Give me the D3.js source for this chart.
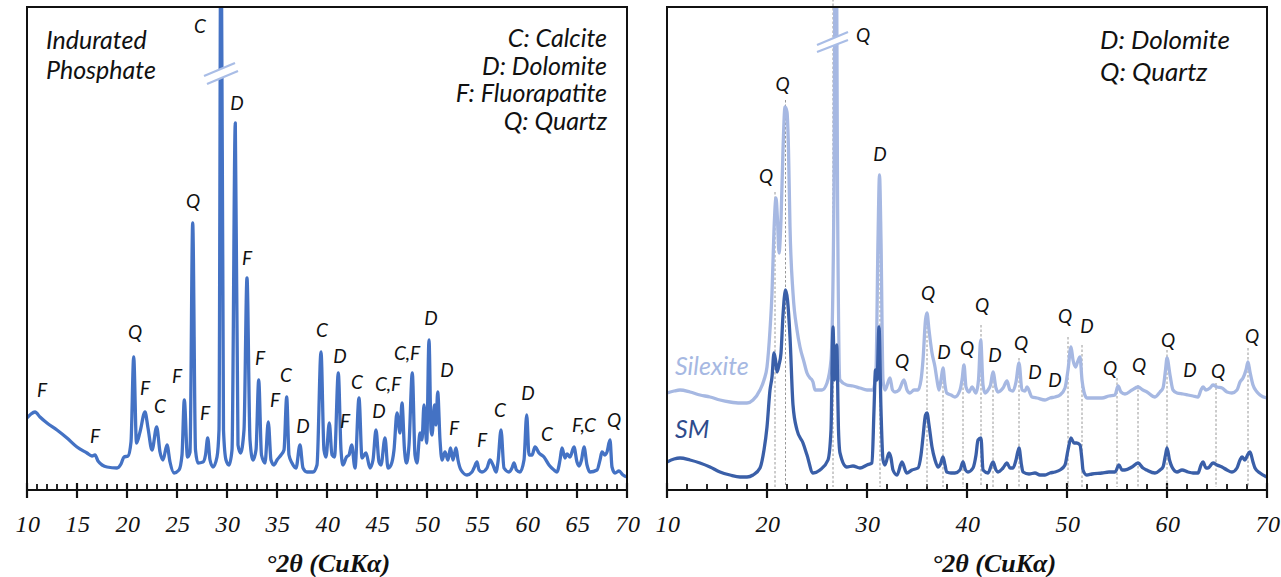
<!DOCTYPE html>
<html>
<head>
<meta charset="utf-8">
<script src="https://cdn.jsdelivr.net/npm/d3@7"></script>
<style>
  body { margin: 0; background: #fff; }
  .lbl { font-family: Lato, "Open Sans", sans-serif; font-style: italic; font-size: 19px; fill: #111; }
  .leg { font-family: Lato, "Open Sans", sans-serif; font-style: italic; font-size: 25px; fill: #111; }
  .tick { font-family: "Liberation Serif", serif; font-style: italic; font-size: 24px; letter-spacing: 0.5px; fill: #111; }
  .title { font-family: "Liberation Serif", serif; font-style: italic; font-weight: bold; font-size: 26px; fill: #111; }
</style>
</head>
<body>
<svg id="chart"></svg>
<script>
// XRD pattern of the indurated phosphate, [2theta, counts]
const phosphate = [
  [10.0,72],[10.4,76],[10.8,78],[11.3,73],[12.0,67],[13.0,60],[14.0,52],[15.0,43],[16.0,37],[16.5,34],[16.8,35],
  [17.1,29],[18.0,23],[19.0,22],[19.4,26],[19.7,33],[20.1,34],[20.4,48],[20.67,133],[20.95,47],[21.3,58],[21.8,78],
  [22.1,62],[22.5,40],[22.97,63],[23.3,38],[23.6,30],[24.0,45],[24.3,28],[24.7,17],[25.2,20],[25.5,35],[25.73,90],
  [26.05,33],[26.3,38],[26.57,267],[26.85,40],[27.1,27],[27.6,28],[27.85,35],[28.07,52],[28.3,30],[28.6,23],[29.0,33],
  [29.2,60],[29.4,620],[29.65,60],[29.9,30],[30.2,25],[30.5,40],[30.83,367],[31.1,45],[31.35,37],[31.7,60],[32.0,212],
  [32.3,50],[32.6,30],[32.9,40],[33.17,110],[33.45,35],[33.8,27],[34.13,68],[34.4,30],[34.7,25],[35.0,30],[35.4,35],
  [35.7,40],[35.97,93],[36.2,35],[36.5,27],[36.9,22],[37.3,45],[37.6,22],[38.0,18],[38.6,18],[39.0,25],[39.4,138],
  [39.7,40],[39.9,33],[40.23,67],[40.5,35],[40.75,33],[41.13,117],[41.4,40],[41.6,25],[41.95,33],[42.2,35],[42.47,45],
  [42.8,22],[43.2,92],[43.5,32],[43.9,37],[44.3,22],[44.6,30],[44.9,60],[45.2,28],[45.4,25],[45.8,52],[46.1,22],
  [46.4,25],[46.7,40],[47.0,77],[47.3,57],[47.5,87],[47.75,40],[47.95,27],[48.2,45],[48.53,117],[48.8,35],[49.0,27],
  [49.3,57],[49.5,50],[49.7,85],[49.97,47],[50.2,150],[50.4,60],[50.5,55],[50.75,85],[50.9,65],[51.07,98],[51.3,50],
  [51.5,30],[51.8,38],[52.1,30],[52.35,42],[52.6,30],[52.9,42],[53.1,30],[53.4,20],[54.0,15],[54.5,18],[54.7,22],
  [55.0,28],[55.2,20],[55.5,18],[56.0,22],[56.3,30],[56.6,25],[56.9,18],[57.1,28],[57.4,60],[57.7,22],[58.2,18],
  [58.5,22],[58.7,27],[58.95,20],[59.3,18],[59.7,30],[59.97,75],[60.2,35],[60.5,35],[60.8,43],[61.2,37],[61.7,33],
  [62.2,25],[62.7,20],[63.0,18],[63.3,30],[63.5,42],[63.8,32],[64.0,36],[64.3,33],[64.7,43],[65.0,28],[65.2,24],
  [65.45,30],[65.7,43],[66.0,25],[66.3,18],[67.0,20],[67.3,30],[67.5,38],[67.8,35],[68.0,38],[68.3,50],[68.5,23],
  [68.8,17],[69.2,19],[69.6,15],[70.0,13]
];

// silexite and SM patterns
const silexite = [
  [10,97],[10.7,99],[11.3,100],[12.3,98],[13.3,95],[14.3,93],[15.3,90],[16.3,88],[17.3,87],[18.0,87],[18.6,90],
  [19.3,100],[19.7,110],[20.0,123],[20.3,160],[20.5,197],[20.7,260],[20.9,292],[21.05,270],[21.2,237],[21.4,270],
  [21.6,340],[21.8,383],[22.0,378],[22.15,340],[22.3,263],[22.6,197],[23.0,160],[23.3,143],[23.7,128],[24.0,117],
  [24.3,112],[24.5,110],[24.6,108],[24.8,100],[25.0,100],[25.5,100],[26.0,107],[26.4,130],[26.7,300],[26.87,700],
  [27.05,300],[27.3,110],[27.97,105],[28.6,104],[29.3,102],[30.0,100],[30.6,100],[30.9,120],[31.1,250],[31.25,315],
  [31.4,250],[31.6,110],[31.8,100],[32.3,112],[32.55,100],[32.8,98],[33.2,100],[33.7,110],[34.0,100],[34.3,97],
  [34.7,100],[35.1,100],[35.4,110],[35.6,130],[35.85,170],[36.0,177],[36.2,160],[36.5,137],[36.8,123],[37.0,110],
  [37.2,100],[37.4,110],[37.6,122],[37.8,105],[37.97,97],[38.4,95],[38.8,93],[39.3,100],[39.5,110],[39.7,125],
  [39.9,103],[40.2,98],[40.5,103],[40.9,97],[41.15,110],[41.37,150],[41.6,105],[41.8,97],[42.1,100],[42.35,105],
  [42.6,118],[42.9,102],[43.1,98],[43.6,102],[44.0,109],[44.3,100],[44.6,99],[44.9,108],[45.2,127],[45.5,100],
  [45.8,99],[46.0,103],[46.5,93],[47.0,92],[47.8,90],[48.3,92],[48.8,93],[49.3,95],[49.8,102],[50.1,120],[50.4,143],
  [50.6,130],[50.85,123],[51.05,128],[51.3,133],[51.5,110],[51.7,98],[52.0,92],[53.0,92],[53.5,92],[54.2,94],
  [54.8,95],[55.1,104],[55.4,98],[55.8,96],[56.5,100],[57.1,103],[57.6,100],[58.0,98],[58.8,93],[59.3,98],[59.6,102],
  [59.85,120],[60.0,132],[60.3,115],[60.6,100],[61.0,97],[61.6,96],[62.1,95],[62.6,94],[63.1,93],[63.4,100],
  [63.6,103],[63.9,100],[64.3,102],[64.6,105],[65.0,103],[65.5,102],[66.0,98],[66.5,97],[67.0,100],[67.3,108],
  [67.6,112],[67.9,120],[68.1,128],[68.3,118],[68.6,105],[69.0,98],[69.3,95],[69.97,92]
];
const sm = [
  [10,28],[10.7,31],[11.3,32],[12.3,30],[13.3,27],[14.3,23],[15.3,18],[16.3,15],[17.3,13],[18.0,13],[18.6,15],
  [19.3,22],[19.7,40],[20.0,63],[20.3,100],[20.5,113],[20.7,137],[20.85,130],[21.0,118],[21.2,125],[21.4,137],
  [21.6,175],[21.85,200],[22.05,190],[22.3,153],[22.6,85],[23.0,60],[23.6,47],[24.0,35],[24.6,17],[25.3,20],
  [26.1,30],[26.4,60],[26.6,163],[26.75,110],[26.97,145],[27.15,60],[27.3,37],[27.97,23],[28.6,24],[29.3,22],
  [30.0,25],[30.5,27],[30.7,80],[30.85,120],[31.0,110],[31.2,163],[31.4,80],[31.6,30],[31.8,25],[32.2,37],[32.4,32],
  [32.6,20],[33.0,15],[33.5,28],[33.97,17],[34.5,20],[35.1,22],[35.4,35],[35.6,53],[35.85,75],[36.0,77],[36.2,65],
  [36.5,43],[36.8,30],[37.1,23],[37.35,26],[37.6,33],[37.8,25],[37.97,18],[38.4,17],[38.8,17],[39.3,20],[39.6,28],
  [39.85,20],[40.1,18],[40.6,22],[40.9,35],[41.1,50],[41.4,52],[41.6,20],[42.1,17],[42.6,28],[42.9,20],[43.1,18],
  [43.6,22],[44.0,27],[44.3,22],[44.6,22],[44.9,30],[45.2,42],[45.45,25],[45.6,18],[46.2,16],[46.8,17],[47.3,15],
  [47.8,15],[48.3,17],[48.8,18],[49.3,20],[49.8,25],[50.1,40],[50.4,52],[50.7,47],[50.97,47],[51.3,45],[51.5,30],
  [51.6,20],[51.97,15],[52.5,16],[53.5,17],[54.2,18],[54.8,18],[55.2,25],[55.5,20],[55.8,20],[56.5,23],[57.1,27],
  [57.6,22],[57.97,20],[58.8,17],[59.3,20],[59.6,23],[59.85,35],[60.0,42],[60.25,30],[60.5,23],[61.0,18],[61.5,20],
  [62.1,18],[62.6,17],[63.1,17],[63.4,25],[63.6,28],[63.9,22],[64.1,22],[64.6,27],[65.0,25],[65.5,23],[66.0,20],
  [66.5,18],[67.0,22],[67.3,30],[67.5,33],[67.8,30],[68.05,35],[68.3,38],[68.6,28],[68.8,22],[69.3,17],[69.97,13]
];

// peak labels [text, 2theta, counts]
const phosphateLabels = [
  ["C",27.3,457],["D",31.0,380],["Q",26.6,282],["Q",20.8,151],["F",11.5,93],["F",16.8,47],["F",21.8,95],
  ["C",23.3,77],["F",25.0,107],["F",27.8,70],["F",32.0,225],["F",33.3,125],["C",35.9,108],["F",34.8,83],
  ["D",37.6,57],["C",39.5,153],["D",41.3,127],["F",41.8,62],["C",43.0,101],["C,F",46.1,99],["D",45.2,72],
  ["C,F",48.0,130],["D",50.4,165],["D",52.0,113],["F",52.7,55],["F",55.5,43],["C",57.3,73],["D",60.1,90],
  ["C",62.0,49],["F,C",65.7,58],["Q",68.7,63]
];
const silexiteLabels = [
  ["Q",29.6,448],["Q",21.57,399],["Q",19.9,307],["D",31.3,329],["Q",33.5,122],["Q",36.1,190],["D",37.7,131],
  ["Q",40.0,135],["Q",41.5,178],["D",42.8,128],["Q",45.4,140],["D",46.8,111],["D",48.8,103],["Q",49.8,167],
  ["D",52.0,157],["Q",54.3,115],["Q",57.2,118],["Q",60.1,143],["D",62.3,113],["Q",65.1,112],["Q",68.5,147]
];

// dotted reference lines on the right panel [2theta, top counts]
const refLines = [
  [20.8,298],[21.85,390],[26.6,500],[31.3,315],[36.0,177],[37.6,122],[39.6,125],[41.4,165],[42.6,118],
  [45.2,132],[50.1,153],[51.5,145],[55.0,112],[57.1,105],[60.0,140],[64.9,107],[68.1,142]
];

const legendLeft = ["C: Calcite", "D: Dolomite", "F: Fluorapatite", "Q: Quartz"];
const legendRight = ["D: Dolomite", "Q: Quartz"];

const width = 1281, height = 577;
const plotTop = 7, base = 490;

const svg = d3.select("#chart").attr("width", width).attr("height", height);

const y = d3.scaleLinear().domain([0, 483]).range([base, plotTop]);
const xL = d3.scaleLinear().domain([10, 70]).range([27, 627]);
const xR = d3.scaleLinear().domain([10, 70]).range([667, 1267]);

svg.append("defs").selectAll("clipPath")
  .data([["clipL", xL], ["clipR", xR]])
  .join("clipPath").attr("id", d => d[0])
  .append("rect")
    .attr("x", d => d[1].range()[0]).attr("y", plotTop)
    .attr("width", 600).attr("height", base - plotTop);

function panel(x, majorStep, minorStep) {
  const g = svg.append("g");
  const minor = d3.range(10, 70.01, minorStep).filter(v => Math.abs(v / majorStep - Math.round(v / majorStep)) > 1e-6);
  const major = d3.range(10, 70.01, majorStep);
  g.selectAll(".mn").data(minor).join("line")
    .attr("x1", d => x(d)).attr("x2", d => x(d)).attr("y1", base - 6).attr("y2", base)
    .attr("stroke", "#111").attr("stroke-width", 1.8);
  g.selectAll(".mj").data(major).join("line")
    .attr("x1", d => x(d)).attr("x2", d => x(d)).attr("y1", base - 7).attr("y2", base + 8)
    .attr("stroke", "#111").attr("stroke-width", 2.2);
  g.selectAll(".tl").data(major).join("text")
    .attr("class", "tick").attr("text-anchor", "middle")
    .attr("x", d => x(d) + 1).attr("y", 532).text(d => d);
  return g;
}

function frame(x) {
  const [x0, x1] = x.range();
  svg.append("path")
    .attr("d", `M${x0},${base}V${plotTop}H${x1}V${base}`)
    .attr("fill", "none").attr("stroke", "#111").attr("stroke-width", 2);
  svg.append("line").attr("x1", x0).attr("x2", x1).attr("y1", base).attr("y2", base)
    .attr("stroke", "#111").attr("stroke-width", 2.2);
}

function breakMark(x, a, b) {
  // two short parallel slashes across an off-scale peak
  const g = svg.append("g");
  g.append("path")
    .attr("d", `M${x(a[0])},${y(a[1])}L${x(a[2])},${y(a[3])}L${x(b[2])},${y(b[3])}L${x(b[0])},${y(b[1])}Z`)
    .attr("fill", "#fff");
  [a, b].forEach(s => g.append("line")
    .attr("x1", x(s[0])).attr("y1", y(s[1])).attr("x2", x(s[2])).attr("y2", y(s[3]))
    .attr("stroke", "#a9bde6").attr("stroke-width", 2.2));
}

const line = x => d3.line().x(d => x(d[0])).y(d => y(d[1])).curve(d3.curveMonotoneX);

// ---- left panel
panel(xL, 5, 1);
svg.append("path").datum(phosphate)
  .attr("clip-path", "url(#clipL)")
  .attr("d", line(xL)).attr("fill", "none")
  .attr("stroke", "#4472c4").attr("stroke-width", 3.3).attr("stroke-linejoin", "round");
breakMark(xL, [27.7, 414, 30.8, 427], [28.0, 406, 31.1, 419]);
frame(xL);

svg.append("g").selectAll("text").data(phosphateLabels).join("text")
  .attr("class", "lbl").attr("text-anchor", "middle")
  .attr("x", d => xL(d[1])).attr("y", d => y(d[2])).text(d => d[0]);

svg.append("text").attr("class", "leg").attr("x", 46).attr("y", 49).text("Indurated");
svg.append("text").attr("class", "leg").attr("x", 46).attr("y", 79).text("Phosphate");
svg.append("g").selectAll("text").data(legendLeft).join("text")
  .attr("class", "leg").attr("text-anchor", "end")
  .attr("x", 607).attr("y", (d, i) => 47 + i * 27.5).text(d => d);

svg.append("text").attr("class", "title").attr("text-anchor", "middle")
  .attr("x", 328).attr("y", 572).text("°2θ (CuKα)");

// ---- right panel
panel(xR, 10, 2);
svg.append("g").selectAll("line").data(refLines).join("line")
  .attr("x1", d => xR(d[0])).attr("x2", d => xR(d[0]))
  .attr("y1", d => y(d[1])).attr("y2", base - 3)
  .attr("stroke", "#8c8c8c").attr("stroke-width", 0.9).attr("stroke-dasharray", "2.5,2");
svg.append("path").datum(silexite)
  .attr("clip-path", "url(#clipR)")
  .attr("d", line(xR)).attr("fill", "none")
  .attr("stroke", "#a6b8e2").attr("stroke-width", 3.3).attr("stroke-linejoin", "round");
svg.append("path").datum(sm)
  .attr("clip-path", "url(#clipR)")
  .attr("d", line(xR)).attr("fill", "none")
  .attr("stroke", "#3a5fa8").attr("stroke-width", 3.3).attr("stroke-linejoin", "round");
breakMark(xR, [25.0, 445, 28.1, 458], [25.0, 438, 28.1, 450]);
frame(xR);

svg.append("g").selectAll("text").data(silexiteLabels).join("text")
  .attr("class", "lbl").attr("text-anchor", "middle")
  .attr("x", d => xR(d[1])).attr("y", d => y(d[2])).text(d => d[0]);

svg.append("text").attr("class", "leg").attr("x", 675).attr("y", 375)
  .style("fill", "#a6b8e2").text("Silexite");
svg.append("text").attr("class", "leg").attr("x", 675).attr("y", 438)
  .style("fill", "#2e4b8c").text("SM");
svg.append("g").selectAll("text").data(legendRight).join("text")
  .attr("class", "leg").style("font-size", "26px")
  .attr("x", 1100).attr("y", (d, i) => 49 + i * 32).text(d => d);

svg.append("text").attr("class", "title").attr("text-anchor", "middle")
  .attr("x", 994).attr("y", 572).text("°2θ (CuKα)");
</script>
</body>
</html>
